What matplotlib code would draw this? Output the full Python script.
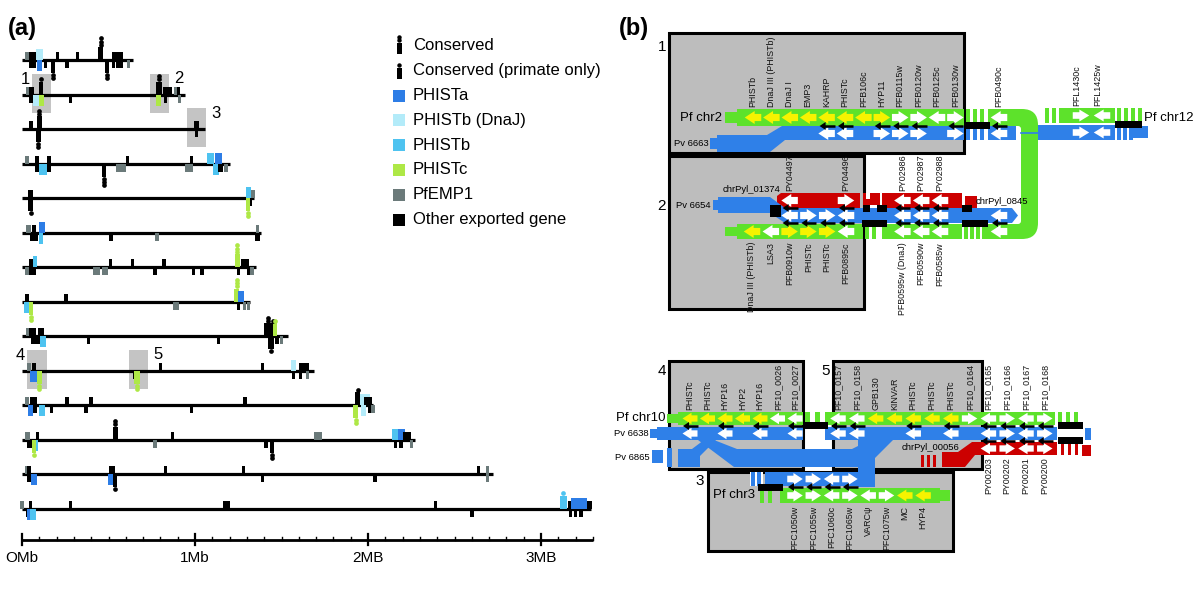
import matplotlib
matplotlib.use("Agg")
import matplotlib.pyplot as plt
from matplotlib.patches import Rectangle, Polygon, PathPatch
from matplotlib.path import Path

plt.rcParams['font.family'] = ['Liberation Sans', 'DejaVu Sans']

# ======================= DATA : panel (a) =======================
chrom_lengths_mb = [0.64, 0.94, 1.06, 1.20, 1.34, 1.38, 1.35, 1.32, 1.54, 1.69, 2.03, 2.27, 2.72, 3.29]

# gene = (position Mb, strand, class, conserved dots, width Mb)
# classes: A PHISTa, D PHISTb (DnaJ), B PHISTb, C PHISTc, E PfEMP1, O other exported
chr1_genes = [(0.03, 1, 'E', 0, 0.012), (0.06, 1, 'O', 0, 0.03), (0.06, -1, 'O', 0, 0.03),
              (0.10, 1, 'D', 0, 0.03), (0.10, -1, 'A', 0, 0.02), (0.135, -1, 'O', 0, 0.012),
              (0.18, -1, 'O', 2, 0.015), (0.205, 1, 'O', 0, 0.012), (0.26, -1, 'O', 0, 0.012),
              (0.32, 1, 'O', 0, 0.012), (0.455, 1, 'O', 3, 0.02), (0.49, -1, 'O', 2, 0.015),
              (0.53, 1, 'O', 0, 0.015), (0.53, -1, 'O', 0, 0.012), (0.565, 1, 'O', 0, 0.03),
              (0.565, -1, 'O', 0, 0.03), (0.615, -1, 'E', 0, 0.012)]
chr2_genes = [(0.035, 1, 'E', 0, 0.012), (0.055, 1, 'O', 0, 0.02), (0.055, -1, 'O', 0, 0.02),
              (0.08, -1, 'D', 0, 0.025), (0.11, 1, 'O', 1, 0.02), (0.115, -1, 'C', 0, 0.02),
              (0.28, -1, 'O', 0, 0.012), (0.79, 1, 'O', 2, 0.025), (0.79, -1, 'C', 0, 0.02),
              (0.83, 1, 'O', 0, 0.02), (0.855, 1, 'O', 0, 0.015), (0.83, -1, 'O', 0, 0.012),
              (0.89, 1, 'E', 0, 0.012), (0.91, -1, 'E', 0, 0.012), (0.905, 1, 'O', 0, 0.012)]
chr3_genes = [(0.05, 1, 'O', 0, 0.015), (0.095, -1, 'O', 2, 0.02), (0.10, 1, 'O', 2, 0.02),
              (1.01, 1, 'O', 0, 0.02), (1.01, -1, 'O', 0, 0.012)]
chr4_genes = [(0.03, 1, 'E', 0, 0.012), (0.085, 1, 'O', 0, 0.015), (0.085, -1, 'O', 0, 0.015),
              (0.12, -1, 'B', 0, 0.04), (0.155, 1, 'O', 0, 0.015), (0.155, -1, 'O', 0, 0.015),
              (0.475, -1, 'O', 3, 0.015), (0.57, -1, 'E', 0, 0.05), (0.61, 1, 'O', 0, 0.012),
              (0.965, -1, 'E', 0, 0.04), (0.98, 1, 'O', 0, 0.012), (1.09, 1, 'B', 0, 0.03),
              (1.135, 1, 'A', 0, 0.03), (1.12, -1, 'B', 0, 0.025), (1.145, -1, 'O', 0, 0.02),
              (1.18, -1, 'E', 0, 0.012)]
chr5_genes = [(0.05, 1, 'O', 0, 0.02), (0.05, -1, 'O', 1, 0.02), (1.31, 1, 'B', 0, 0.02),
              (1.335, 1, 'E', 0, 0.02), (1.32, -1, 'O', 0, 0.015), (1.305, -1, 'C', 2, 0.015)]
chr6_genes = [(0.04, 1, 'E', 0, 0.02), (0.07, -1, 'O', 0, 0.04), (0.07, 1, 'O', 0, 0.015),
              (0.115, 1, 'A', 0, 0.025), (0.11, -1, 'B', 0, 0.02), (0.515, -1, 'O', 0, 0.012),
              (0.78, -1, 'E', 0, 0.02), (1.36, 1, 'E', 0, 0.012), (1.36, -1, 'O', 0, 0.02)]
chr7_genes = [(0.03, -1, 'E', 0, 0.02), (0.06, 1, 'O', 0, 0.03), (0.06, -1, 'O', 0, 0.03),
              (0.075, 1, 'B', 0, 0.02), (0.43, -1, 'E', 0, 0.03), (0.48, -1, 'E', 0, 0.03),
              (0.51, 1, 'O', 0, 0.012), (0.64, 1, 'O', 0, 0.012), (0.77, -1, 'O', 0, 0.012),
              (0.82, 1, 'O', 0, 0.012), (0.99, -1, 'O', 0, 0.012), (1.04, -1, 'O', 0, 0.012),
              (1.245, 1, 'C', 3, 0.025), (1.29, 1, 'O', 0, 0.04), (1.25, -1, 'O', 0, 0.012),
              (1.31, -1, 'O', 0, 0.012), (1.33, -1, 'E', 0, 0.012)]
chr8_genes = [(0.03, 1, 'O', 0, 0.012), (0.03, -1, 'B', 0, 0.03), (0.05, -1, 'C', 2, 0.015),
              (0.255, 1, 'O', 0, 0.012), (0.89, -1, 'E', 0, 0.03), (1.24, 1, 'C', 3, 0.02),
              (1.265, 1, 'A', 0, 0.025), (1.25, -1, 'O', 0, 0.012), (1.285, -1, 'E', 0, 0.012),
              (1.31, -1, 'E', 0, 0.012)]
chr9_genes = [(0.035, 1, 'E', 0, 0.012), (0.06, 1, 'O', 0, 0.03), (0.11, 1, 'O', 0, 0.03),
              (0.08, -1, 'O', 0, 0.05), (0.12, -1, 'B', 0, 0.025), (0.385, -1, 'O', 0, 0.012),
              (1.135, -1, 'O', 0, 0.012), (1.42, 1, 'O', 2, 0.03), (1.44, -1, 'O', 1, 0.025),
              (1.45, 1, 'O', 1, 0.015), (1.465, 1, 'C', 1, 0.015), (1.475, -1, 'O', 0, 0.012),
              (1.50, -1, 'E', 0, 0.012)]
chr10_genes = [(0.04, 1, 'E', 0, 0.015), (0.065, -1, 'A', 0, 0.03), (0.07, 1, 'O', 0, 0.012),
               (0.10, -1, 'C', 2, 0.02), (0.65, -1, 'O', 0, 0.012), (0.665, -1, 'C', 2, 0.025),
               (0.80, 1, 'O', 0, 0.012), (1.39, 1, 'O', 0, 0.012), (1.57, 1, 'D', 0, 0.025),
               (1.57, -1, 'O', 0, 0.012), (1.63, 1, 'O', 0, 0.05), (1.61, -1, 'O', 0, 0.012),
               (1.65, -1, 'E', 0, 0.012)]
chr11_genes = [(0.03, 1, 'E', 0, 0.015), (0.065, 1, 'O', 0, 0.03), (0.065, -1, 'O', 0, 0.03),
               (0.05, -1, 'A', 0, 0.02), (0.115, -1, 'B', 0, 0.03), (0.17, -1, 'O', 0, 0.012),
               (0.26, 1, 'O', 0, 0.012), (0.37, -1, 'O', 0, 0.012), (0.40, 1, 'O', 0, 0.012),
               (0.98, -1, 'O', 0, 0.012), (1.29, 1, 'O', 0, 0.012), (1.94, 1, 'O', 1, 0.02),
               (1.93, -1, 'C', 2, 0.02), (1.98, 1, 'D', 0, 0.05), (1.975, -1, 'D', 0, 0.02),
               (2.0, 1, 'O', 0, 0.04), (2.01, -1, 'O', 0, 0.012), (2.03, -1, 'E', 0, 0.012)]
chr12_genes = [(0.03, 1, 'E', 0, 0.02), (0.05, -1, 'O', 0, 0.03), (0.075, -1, 'B', 0, 0.03),
               (0.07, -1, 'C', 1, 0.012), (0.09, 1, 'O', 0, 0.012), (0.54, 1, 'O', 2, 0.02),
               (0.77, -1, 'E', 0, 0.012), (0.87, 1, 'O', 0, 0.012), (1.41, -1, 'O', 0, 0.012),
               (1.445, -1, 'O', 2, 0.02), (1.71, 1, 'E', 0, 0.035), (2.16, 1, 'B', 0, 0.03),
               (2.195, 1, 'A', 0, 0.035), (2.225, 1, 'O', 0, 0.04), (2.16, -1, 'O', 0, 0.012),
               (2.19, -1, 'O', 0, 0.012), (2.25, -1, 'E', 0, 0.012)]
chr13_genes = [(0.03, 1, 'E', 0, 0.015), (0.04, 1, 'O', 0, 0.012), (0.04, -1, 'O', 0, 0.012),
               (0.07, -1, 'A', 0, 0.025), (0.515, -1, 'A', 0, 0.025), (0.52, 1, 'O', 0, 0.025),
               (0.535, -1, 'O', 1, 0.015), (0.83, 1, 'O', 0, 0.012), (1.28, 1, 'O', 0, 0.012),
               (1.39, -1, 'O', 0, 0.012), (2.04, -1, 'O', 0, 0.012), (2.64, 1, 'O', 0, 0.012),
               (2.69, 1, 'E', 0, 0.012), (2.69, -1, 'E', 0, 0.012)]
chr14_genes = [(0.0, 1, 'E', 0, 0.012), (0.035, -1, 'O', 0, 0.02), (0.045, -1, 'A', 0, 0.02),
               (0.065, -1, 'B', 0, 0.025), (0.05, 1, 'O', 0, 0.012), (0.28, 1, 'O', 0, 0.012),
               (1.17, 1, 'O', 0, 0.012), (1.19, 1, 'O', 0, 0.012), (2.39, 1, 'O', 0, 0.012),
               (2.60, -1, 'O', 0, 0.012), (3.13, 1, 'B', 1, 0.03), (3.17, 1, 'O', 0, 0.02),
               (3.17, -1, 'O', 0, 0.012), (3.22, 1, 'A', 0, 0.08), (3.28, 1, 'O', 0, 0.02),
               (3.20, -1, 'O', 0, 0.012), (3.23, -1, 'O', 0, 0.012)]
genes_by_chrom = [chr1_genes, chr2_genes, chr3_genes, chr4_genes, chr5_genes, chr6_genes, chr7_genes,
                  chr8_genes, chr9_genes, chr10_genes, chr11_genes, chr12_genes, chr13_genes, chr14_genes]

# highlighted regions: (label, chromosome index, start Mb, end Mb, label side)
highlight_regions = [("1", 1, 0.06, 0.165, 'left'), ("2", 1, 0.74, 0.85, 'right'),
                     ("3", 2, 0.953, 1.064, 'right'), ("4", 9, 0.03, 0.143, 'left'),
                     ("5", 9, 0.62, 0.73, 'right')]

scale_major = [0, 1, 2, 3]
scale_labels = ["OMb", "1Mb", "2MB", "3MB"]
scale_end_mb = 3.30

class_names = {'A': 'PHISTa', 'D': 'PHISTb (DnaJ)', 'B': 'PHISTb', 'C': 'PHISTc',
               'E': 'PfEMP1', 'O': 'Other exported gene'}
class_colors = {'A': '#2d7de6', 'D': '#b3ebf9', 'B': '#4ec3f0', 'C': '#aee846',
                'E': '#6b7a7a', 'O': '#000000'}
legend_classes = ['A', 'D', 'B', 'C', 'E', 'O']

# ======================= DATA : panel (b) =======================
chr2_top_genes = ["PHISTb", "DnaJ III (PHISTb)", "DnaJ I", "EMP3", "KAHRP", "PHISTc", "PFB106c",
                  "HYP11", "PFB0115w", "PFB0120w", "PFB0125c", "PFB0130w"]
chr2_top_strand = [-1, -1, -1, -1, -1, -1, -1, 1, 1, 1, -1, 1]
chr2_top_phist = [1, 1, 1, 1, 1, 1, 1, 1, 0, 0, 0, 0]
chr2_top_pv = [0, 0, 0, 0, 1, 1, 0, 1, 1, 1, 0, 1]
chr2_far_gene = "PFB0490c"

chr12_genes = ["PFL1430c", "PFL1425w"]
chr12_strand = [1, -1]

chr2_bot_genes = ["DnaJ III (PHISTb)", "LSA3", "PFB0910w", "PHISTc", "PHISTc", "PFB0895c",
                  "PFB0595w (DnaJ)", "PFB0590w", "PFB0585w"]
chr2_bot_slot = [0, 1, 2, 3, 4, 5, 8, 9, 10]
chr2_bot_strand = [-1, -1, 1, 1, 1, -1, -1, -1, -1]
chr2_bot_phist = [1, 0, 1, 1, 1, 0, 0, 0, 0]
chr2_bot_pv = [0, 0, 1, 1, 1, 1, 1, 1, 1]
pv6654_strand = [0, 0, -1, 1, 1, -1, -1, -1, -1]
py_top_genes = ["PY04497", "PY04496", "PY02986", "PY02987", "PY02988"]
py_top_slot = [2, 5, 8, 9, 10]
py_top_strand = [-1, 1, -1, -1, -1]

chr10_left_genes = ["PHISTc", "PHISTc", "HYP16", "HYP2", "HYP16", "PF10_0026", "PF10_0027"]
chr10_left_phist = [1, 1, 1, 1, 1, 0, 0]
chr10_left_pv = [1, 0, 1, 0, 1, 0, 1]
chr10_right_genes = ["PF10_0157", "PF10_0158", "GPB130", "KINVAR", "PHISTc", "PHISTc", "PHISTc",
                     "PF10_0164", "PF10_0165", "PF10_0166", "PF10_0167", "PF10_0168"]
chr10_right_strand = [-1, -1, -1, -1, -1, -1, -1, 1, -1, 1, -1, 1]
chr10_right_phist = [0, 0, 1, 1, 1, 1, 1, 0, 0, 0, 0, 0]
chr10_right_pv = [1, 1, 0, 0, 1, 0, 1, 0, 1, 1, 1, 1]
py_bot_genes = ["PY00203", "PY00202", "PY00201", "PY00200"]
py_bot_slot = [8, 9, 10, 11]

chr3_genes = ["PFC1050w", "PFC1055w", "PFC1060c", "PFC1065w", "VARCψ", "PFC1075w", "MC", "HYP4"]
chr3_strand = [1, 1, -1, 1, -1, 1, -1, -1]
chr3_phist = [0, 0, 0, 0, 0, 0, 1, 1]
chr3_pv = [1, 1, 1, 1, 0, 0, 0, 0]

# ======================= STYLE =======================
GREEN = '#5de22b'
YELLOW = '#f6f300'
BLUE = '#2f80e8'
RED = '#cc0000'
BOXGRAY = '#bdbdbd'
HLGRAY = '#c4c4c4'
GENE_FS = 6.4
TRACK_FS = 9.5
SMALL_FS = 6.8

W, H = 1200, 595
fig = plt.figure(figsize=(12, 5.95), dpi=100)
fig.patch.set_facecolor('white')

axb = fig.add_axes([0, 0, 1, 1])
axb.set_xlim(0, W)
axb.set_ylim(H, 0)
axb.axis('off')

# ---------------- panel (a) axis in Mb / chromosome-row units ----------------
PX_MB = 173.0
ROW_PX = 34.5
X0_PX = 22.0
ROW0_PX = 60.0
ax_left_px, ax_right_px, ax_top_px, ax_bot_px = 10, 600, 30, 575
axa = fig.add_axes([ax_left_px / W, (H - ax_bot_px) / H, (ax_right_px - ax_left_px) / W,
                    (ax_bot_px - ax_top_px) / H])
axa.set_xlim((ax_left_px - X0_PX) / PX_MB, (ax_right_px - X0_PX) / PX_MB)
axa.set_ylim((ax_bot_px - ROW0_PX) / ROW_PX, (ax_top_px - ROW0_PX) / ROW_PX)
axa.axis('off')
axa.patch.set_alpha(0)
PX = 1.0 / ROW_PX

for lab, ci, s, e, side in highlight_regions:
    axa.add_patch(Rectangle((s, ci - 21 * PX), e - s, 39 * PX, fc=HLGRAY, ec='none', zorder=1))
    if side == 'left':
        axa.text(s - 0.012, ci - 15 * PX, lab, ha='right', va='center', fontsize=12, zorder=6)
    else:
        axa.text(e + 0.03, ci - 16 * PX, lab, ha='left', va='center', fontsize=12, zorder=6)

for ci, (L, genes) in enumerate(zip(chrom_lengths_mb, genes_by_chrom)):
    axa.plot([0, L], [ci, ci], color='black', lw=2.3, solid_capstyle='butt', zorder=2)
    for pos, strand, cls, dots, wid in genes:
        col = class_colors[cls]
        if dots > 0:
            h = 13 * PX
        elif cls == 'O' or cls == 'E':
            h = 8 * PX
        else:
            h = 11 * PX
        w = wid + 0.008
        y0 = ci if strand < 0 else ci - h
        axa.add_patch(Rectangle((pos - w / 2, y0), w, h, fc=col, ec='none', zorder=3))
        for k in range(dots):
            yy = ci - strand * (h + (k + 0.7) * 3.2 * PX)
            axa.plot(pos, yy, 'o', ms=3.4, mec='none', color=col, zorder=4)

ys = (540 - ROW0_PX) / ROW_PX
axa.plot([0, scale_end_mb], [ys, ys], color='black', lw=2.0, solid_capstyle='butt', zorder=2)
for i in range(int(scale_end_mb * 10) + 1):
    t = i / 10
    if i % 10 == 0:
        axa.plot([t, t], [ys - 6 * PX, ys + 5 * PX], color='black', lw=1.6, zorder=2)
    else:
        axa.plot([t, t], [ys - 3 * PX, ys], color='black', lw=1.0, zorder=2)
for t, lab in zip(scale_major, scale_labels):
    axa.text(t, ys + 18 * PX, lab, ha='center', va='center', fontsize=11)

# ---------------- legend ----------------
leg_x_icon, leg_x_text, leg_y0, leg_dy = 399, 413, 46, 24.8
for i, ndots in enumerate([2, 1]):
    yc = leg_y0 + i * leg_dy
    axb.add_patch(Rectangle((leg_x_icon - 2.5, yc - 3), 5, 11, fc='black', ec='none'))
    for k in range(ndots):
        axb.plot(leg_x_icon, yc - 6 - k * 3.3, 'o', ms=3.2, color='black', mec='none')
axb.text(leg_x_text, leg_y0, "Conserved", va='center', ha='left', fontsize=12)
axb.text(leg_x_text, leg_y0 + leg_dy, "Conserved (primate only)", va='center', ha='left', fontsize=12)
for i, cls in enumerate(legend_classes):
    yc = leg_y0 + (i + 2) * leg_dy
    axb.add_patch(Rectangle((leg_x_icon - 6, yc - 6), 12, 12, fc=class_colors[cls], ec='none'))
    axb.text(leg_x_text, yc, class_names[cls], va='center', ha='left', fontsize=12)

axb.text(8, 29, "(a)", fontsize=17, fontweight='bold', va='center', ha='left')
axb.text(619, 29, "(b)", fontsize=17, fontweight='bold', va='center', ha='left')


# ---------------- panel (b) helpers ----------------
def rect(x0, x1, y0, y1, color, z=3):
    axb.add_patch(Rectangle((x0, y0), x1 - x0, y1 - y0, fc=color, ec='none', zorder=z))


def stripes(xs, y0, y1, color, w=3.5, z=3):
    for x in xs:
        rect(x, x + w, y0, y1, color, z)


def poly(pts, color, z=3):
    axb.add_patch(Polygon(pts, closed=True, fc=color, ec='none', zorder=z))


def gene_arrow(cx, cy, d, color, w=16.5, h=13, z=5):
    hw = w / 2
    head = w * 0.6
    th = h * 0.55
    if d > 0:
        tip, base, tail = cx + hw, cx + hw - head, cx - hw
    else:
        tip, base, tail = cx - hw, cx - hw + head, cx + hw
    poly([(tip, cy), (base, cy - h / 2), (base, cy - th / 2), (tail, cy - th / 2),
          (tail, cy + th / 2), (base, cy + th / 2), (base, cy + h / 2)], color, z)


def connector(cx, cy, z=6):
    axb.plot([cx - 3, cx + 8], [cy, cy], color='black', lw=1.8, solid_capstyle='butt', zorder=z)
    poly([(cx - 7, cy), (cx - 1, cy - 4), (cx - 1, cy + 4)], 'black', z)


def glabel(x, y, s, above=True):
    axb.text(x, y, s, rotation=90, ha='center', va='bottom' if above else 'top',
             fontsize=GENE_FS, zorder=8, color='#111111')


def box(x0, y0, x1, y1, lab, lx, ly):
    axb.add_patch(Rectangle((x0, y0), x1 - x0, y1 - y0, fc=BOXGRAY, ec='black', lw=2.2, zorder=1))
    axb.text(lx, ly, lab, fontsize=11, ha='center', va='center', zorder=8)


box(669, 33, 964, 153, "1", 662, 47)
box(669, 156, 864, 309, "2", 662, 206)
box(669, 361, 803, 469, "4", 662, 371)
box(833, 361, 982, 469, "5", 826, 371)
box(708, 472, 953, 551, "3", 700, 481)

# ---- region 1 ----
X0T, DXT = 753.0, 18.4
gy0, gy1 = 109, 126
rect(725, 737, 112, 123, GREEN)
rect(737, 964, gy0, gy1, GREEN)
stripes([966, 973, 980], gy0, gy1, GREEN)
rect(988, 1005, gy0, gy1, GREEN)
axb.text(722, 118, "Pf chr2", fontsize=TRACK_FS, ha='right', va='center', zorder=8)
bend = Path([(1000, 109), (1022, 109), (1038, 109), (1038, 125), (1038, 223), (1038, 239),
             (1022, 239), (1000, 239), (1000, 224), (1018, 224), (1021, 224), (1021, 221),
             (1021, 129), (1021, 126), (1018, 126), (1000, 126), (1000, 109)],
            [Path.MOVETO, Path.LINETO, Path.CURVE3, Path.CURVE3, Path.LINETO, Path.CURVE3,
             Path.CURVE3, Path.LINETO, Path.LINETO, Path.LINETO, Path.CURVE3, Path.CURVE3,
             Path.LINETO, Path.CURVE3, Path.CURVE3, Path.LINETO, Path.CLOSEPOLY])
axb.add_patch(PathPatch(bend, fc=GREEN, ec='none', zorder=3))

poly([(717, 135), (767, 135), (782, 126), (964, 126), (964, 140), (785, 140), (770, 152), (717, 152)], BLUE)
rect(710, 718, 138, 149, BLUE)
stripes([966, 973, 980], 126, 140, BLUE)
rect(988, 1016, 126, 140, BLUE)
axb.text(709, 144, "Pv 6663", fontsize=SMALL_FS, ha='right', va='center', zorder=8)
rect(964, 990, 122, 129, 'black', z=4)

for i, (g, d, ph, pv) in enumerate(zip(chr2_top_genes, chr2_top_strand, chr2_top_phist, chr2_top_pv)):
    cx = X0T + i * DXT
    gene_arrow(cx, 117.5, d, YELLOW if ph else 'white')
    glabel(cx, 107, g)
    if pv:
        gene_arrow(cx, 133.5, d, 'white')
        connector(cx, 126)
gene_arrow(999, 117.5, -1, 'white')
gene_arrow(999, 133.5, -1, 'white')
connector(999, 126)
glabel(999, 107, chr2_far_gene)

stripes([1045, 1052, 1059], 108, 123, GREEN)
rect(1063, 1115, 108, 123, GREEN)
stripes([1117, 1124, 1131, 1138], 108, 123, GREEN)
axb.plot([1021, 1038], [133, 133], color=BLUE, lw=1.2, zorder=3)
rect(1038, 1115, 125, 140, BLUE)
stripes([1117, 1123, 1129], 125, 140, BLUE)
rect(1133, 1148, 126, 138, BLUE)
rect(1115, 1142, 121, 128, 'black', z=4)
for i, (g, d) in enumerate(zip(chr12_genes, chr12_strand)):
    cx = 1081 + i * 21
    gene_arrow(cx, 115.5, d, 'white', h=12)
    gene_arrow(cx, 132.5, d, 'white', h=12)
    glabel(cx - 4, 106, g)
axb.text(1144, 118, "Pf chr12", fontsize=TRACK_FS, ha='left', va='center', zorder=8)

# ---- region 2 ----
X0B, DXB = 752.0, 18.8
poly([(777, 196), (781, 193), (860, 193), (860, 208), (777, 208)], RED)
rect(863, 880, 193, 205, RED)
rect(866, 870, 193, 199, 'white', z=3.5)
rect(882, 962, 193, 208, RED)
rect(965, 977, 196, 208, RED)
axb.text(752, 190, "chrPyl_01374", fontsize=SMALL_FS, ha='center', va='center', zorder=8)
axb.text(976, 202, "chrPyl_0845", fontsize=SMALL_FS, ha='left', va='center', zorder=8)
poly([(718, 197), (770, 197), (785, 208), (1012, 208), (1018, 215.5), (1012, 223), (785, 223),
      (770, 213), (718, 213)], BLUE)
rect(713, 719, 200, 210, BLUE)
axb.text(711, 205, "Pv 6654", fontsize=SMALL_FS, ha='right', va='center', zorder=8)
rect(725, 737, 227, 236, GREEN)
rect(737, 863, 224, 239, GREEN)
stripes([865, 872], 224, 239, GREEN)
rect(882, 962, 224, 239, GREEN)
stripes([964, 970, 976], 224, 239, GREEN)
rect(982, 1002, 224, 239, GREEN)
rect(770, 781, 205, 217, 'black', z=6)
for x0, x1 in [(863, 870), (877, 887), (962, 972)]:
    rect(x0, x1, 205, 212, 'black', z=4)
for x0, x1 in [(862, 887), (962, 988)]:
    rect(x0, x1, 220, 227, 'black', z=4)

for g, s, d, ph, pv, pd in zip(chr2_bot_genes, chr2_bot_slot, chr2_bot_strand, chr2_bot_phist,
                                chr2_bot_pv, pv6654_strand):
    cx = X0B + s * DXB
    gene_arrow(cx, 231.5, d, YELLOW if ph else 'white')
    glabel(cx, 242, g, above=False)
    if pv:
        gene_arrow(cx, 215.5, pd, 'white')
        connector(cx, 223)
for g, s, d in zip(py_top_genes, py_top_slot, py_top_strand):
    cx = X0B + s * DXB
    gene_arrow(cx, 200.5, d, 'white')
    glabel(cx, 191, g)
    connector(cx, 208)
gene_arrow(999, 231.5, -1, 'white')
gene_arrow(999, 215.5, -1, 'white')
connector(999, 223)

# ---- regions 4/5/3 ----
X0L, DXL = 690.0, 17.5
X0R, DXR = 838.0, 18.8
cy10, cyv = 418.5, 433.5
rect(667, 678, 414, 423, GREEN)
rect(678, 803, 412, 425, GREEN)
stripes([805, 815], 412, 425, GREEN, w=4.5)
rect(825, 1055, 412, 425, GREEN)
stripes([1058, 1066, 1074], 412, 425, GREEN, w=4)
axb.text(666, 418, "Pf chr10", fontsize=TRACK_FS, ha='right', va='center', zorder=8)
rect(650, 658, 429, 438, BLUE)
rect(657, 803, 427, 440, BLUE)
rect(825, 1057, 427, 440, BLUE)
rect(1085, 1091, 428, 440, BLUE)
axb.text(649, 433, "Pv 6638", fontsize=SMALL_FS, ha='right', va='center', zorder=8)
rect(803, 828, 422, 429, 'black', z=4)
rect(1058, 1083, 422, 429, 'black', z=4)
rect(1058, 1083, 437, 444, 'black', z=4)
rect(652, 663, 450, 463, BLUE)
rect(667, 672, 448, 467, BLUE)
poly([(678, 449), (692, 449), (704, 440), (716, 440), (700, 456), (700, 467), (678, 467)], BLUE)
poly([(698, 440), (714, 440), (737, 449), (852, 449), (870, 440), (893, 440), (866, 467),
      (734, 467)], BLUE)
axb.text(650, 457, "Pv 6865", fontsize=SMALL_FS, ha='right', va='center', zorder=8)
rect(858, 875, 440, 487, BLUE)
poly([(942, 452), (958, 452), (972, 442), (1057, 442), (1057, 455), (975, 455), (965, 467),
      (942, 467)], RED)
stripes([921, 927, 933], 455, 467, RED, w=3)
stripes([1061, 1068, 1075], 442, 455, RED, w=3)
rect(1082, 1091, 445, 456, RED)
axb.text(931, 448, "chrPyl_00056", fontsize=SMALL_FS, ha='center', va='center', zorder=8)

for i, (g, ph, pv) in enumerate(zip(chr10_left_genes, chr10_left_phist, chr10_left_pv)):
    cx = X0L + i * DXL
    gene_arrow(cx, cy10, -1, YELLOW if ph else 'white', w=15, h=11.5)
    glabel(cx, 410, g)
    if pv:
        gene_arrow(cx, cyv, -1, 'white', w=15, h=11.5)
        connector(cx, 426)
for i, (g, d, ph, pv) in enumerate(zip(chr10_right_genes, chr10_right_strand, chr10_right_phist,
                                        chr10_right_pv)):
    cx = X0R + i * DXR
    gene_arrow(cx, cy10, d, YELLOW if ph else 'white', w=15.5, h=11.5)
    glabel(cx, 410, g)
    if pv:
        gene_arrow(cx, cyv, d, 'white', w=15.5, h=11.5)
        connector(cx, 426)
for g, s in zip(py_bot_genes, py_bot_slot):
    cx = X0R + s * DXR
    gene_arrow(cx, 448.5, chr10_right_strand[s], 'white', w=15.5, h=11.5)
    connector(cx, 441)
    glabel(cx, 457, g, above=False)

X03, DX3 = 795.0, 18.3
rect(750, 763, 472, 486, 'white', z=2)
stripes([751, 757], 472, 486, BLUE, w=3.5)
rect(765, 875, 472, 486, BLUE)
stripes([760, 768], 488, 503, GREEN, w=4)
rect(780, 940, 488, 503, GREEN)
rect(940, 950, 490, 501, GREEN)
rect(758, 783, 484, 491, 'black', z=4)
axb.text(755, 495, "Pf chr3", fontsize=TRACK_FS, ha='right', va='center', zorder=8)
for i, (g, d, ph, pv) in enumerate(zip(chr3_genes, chr3_strand, chr3_phist, chr3_pv)):
    cx = X03 + i * DX3
    gene_arrow(cx, 495.5, d, YELLOW if ph else 'white', w=15.5, h=12)
    glabel(cx, 506, g, above=False)
    if pv:
        gene_arrow(cx, 479, d, 'white', w=15.5, h=12)
        connector(cx, 487)

fig.savefig("out.png", dpi=100, facecolor='white')
